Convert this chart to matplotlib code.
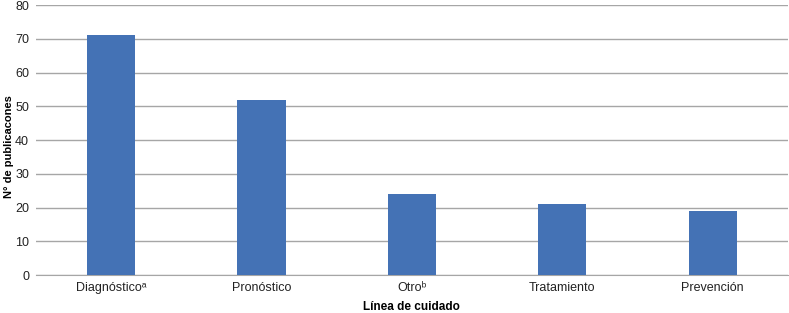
import matplotlib
matplotlib.use('Agg')
import matplotlib.pyplot as plt

plt.rcParams['font.family'] = ['Liberation Sans', 'DejaVu Sans']

categories = ['Diagnóstico\u1d43', 'Pronóstico', 'Otro\u1d47', 'Tratamiento', 'Prevención']
values = [71, 52, 24, 21, 19]
yticks = [0, 10, 20, 30, 40, 50, 60, 70, 80]

fig = plt.figure(figsize=(7.89, 3.13), dpi=100)
ax = fig.add_axes([0.0456, 0.1214, 0.953, 0.8626])

x = range(len(categories))
ax.bar(x, values, width=0.32, color='#4472b5', zorder=3)

ax.set_xlim(-0.5, len(categories) - 0.5)
ax.set_ylim(0, 80)
ax.set_yticks(yticks)
ax.set_xticks(list(x))
ax.set_xticklabels(categories, fontsize=9, color='#222222')
ax.tick_params(axis='y', labelsize=9, labelcolor='#222222', length=0, pad=5)
ax.tick_params(axis='x', length=0, pad=5)

ax.grid(axis='y', color='#a6a6a6', linewidth=1, zorder=0)
for s in ['top', 'right', 'left']:
    ax.spines[s].set_visible(False)
ax.spines['bottom'].set_color('#a6a6a6')

ax.set_xlabel('Línea de cuidado', fontsize=8.5, fontweight='bold', labelpad=5)
ax.set_ylabel('N° de publicacones', fontsize=8, fontweight='bold')
ax.yaxis.set_label_coords(-0.029, 0.475)

fig.savefig('out.png', dpi=100)
